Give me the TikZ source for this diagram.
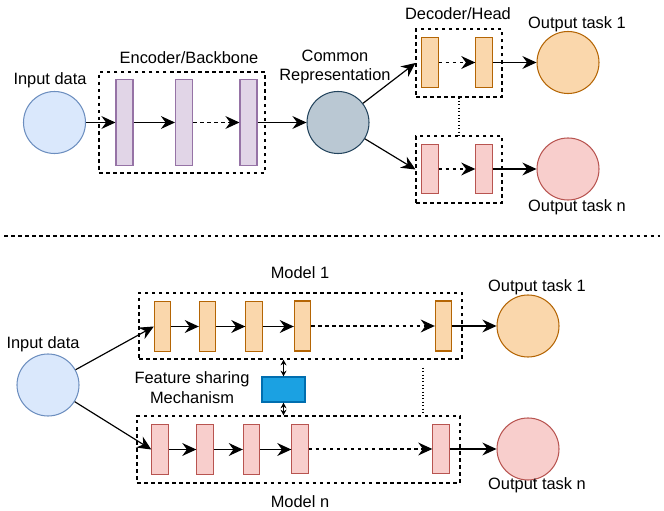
\documentclass[tikz,border=0pt]{standalone}
\usepackage{fontspec}
\setmainfont{Liberation Sans}
\usepackage{xcolor}
\usepackage{tikz}
\usetikzlibrary{arrows.meta,positioning}

\definecolor{inblue}{HTML}{DAE8FC}
\definecolor{inblueline}{HTML}{6C8EBF}
\definecolor{encfill}{HTML}{E1D5E7}
\definecolor{encline}{HTML}{9673A6}
\definecolor{repfill}{HTML}{BAC8D3}
\definecolor{repline}{HTML}{23445D}
\definecolor{orfill}{HTML}{FAD7AC}
\definecolor{orline}{HTML}{B46504}
\definecolor{pkfill}{HTML}{F8CECC}
\definecolor{pkline}{HTML}{B85450}
\definecolor{shfill}{HTML}{1BA1E2}
\definecolor{shline}{HTML}{006EAF}

\tikzset{
  lbl/.style={font=\fontsize{14}{17}\selectfont, align=center, inner sep=0pt},
  ball/.style={circle, minimum size=1.86cm, inner sep=0pt, line width=0.9pt},
  encbar/.style={draw=encline, fill=encfill, line width=0.9pt, minimum width=0.51cm, minimum height=2.58cm, inner sep=0pt},
  orbar/.style={draw=orline, fill=orfill, line width=0.9pt, minimum width=0.49cm, minimum height=1.5cm, inner sep=0pt},
  pkbar/.style={draw=pkline, fill=pkfill, line width=0.9pt, minimum width=0.49cm, minimum height=1.48cm, inner sep=0pt},
  group/.style={draw, dashed, line width=0.9pt, inner sep=0pt},
  flow/.style={-{Stealth[length=12pt,width=11pt,inset=4pt]}, line width=1pt},
  twoway/.style={{Stealth[length=5pt,width=5pt]}-{Stealth[length=5pt,width=5pt]}, line width=0.9pt},
}

\begin{document}
\begin{tikzpicture}[x=0.03cm, y=-0.03cm]
\useasboundingbox (0,0) rectangle (664,511);

\node[ball, draw=inblueline, fill=inblue] (in1) at (54.5,122.5) {};
\node[lbl] at (50,80) {Input data};

\node[group, minimum width=4.98cm, minimum height=3.03cm] (enc) at (182,122.5) {};
\node[lbl] at (189,58) {Encoder/Backbone};
\node[encbar] (e1) at (124.5,122.5) {};
\node[encbar] (e2) at (184,122.5) {};
\node[encbar] (e3) at (248.5,122.5) {};

\node[ball, draw=repline, fill=repfill] (rep) at (338,122.5) {};
\node[lbl] at (335,67) {Common\\Representation};

\node[group, minimum width=2.58cm, minimum height=2.04cm] (head1) at (459,63) {};
\node[group, minimum width=2.58cm, minimum height=2.01cm] (headn) at (459,169.5) {};
\node[lbl] at (458,14) {Decoder/Head};
\node[orbar] (h1a) at (430,62.5) {};
\node[orbar] (h1b) at (484,62.5) {};
\node[pkbar] (hna) at (430,169) {};
\node[pkbar] (hnb) at (484,169) {};

\node[ball, draw=orline, fill=orfill] (out1) at (568,62.5) {};
\node[ball, draw=pkline, fill=pkfill] (outn) at (568,169) {};
\node[lbl] at (577,24) {Output task 1};
\node[lbl] at (577,207) {Output task n};

\draw[flow] (in1) -- (e1);
\draw[flow] (e1) -- (e2);
\draw[flow, dashed] (e2) -- (e3);
\draw[flow] (e3) -- (rep);
\draw[flow] (rep) -- (head1.west);
\draw[flow] (rep) -- (headn.west);
\draw[flow, dashed] (h1a) -- (h1b);
\draw[flow, dashed] (hna) -- (hnb);
\draw[flow] (h1b) -- (out1);
\draw[flow] (hnb) -- (outn);
\draw[dotted, line width=0.9pt] (head1.south) -- (headn.north);

\draw[dashed, line width=0.9pt] (4,236) -- (660,236);

\node[ball, draw=inblueline, fill=inblue] (in2) at (48,385) {};
\node[lbl] at (43,344) {Input data};

\node[group, minimum width=9.69cm, minimum height=1.98cm] (mod1) at (300.5,326) {};
\node[group, minimum width=9.69cm, minimum height=2.01cm] (modn) at (298.5,449.5) {};
\node[lbl] at (300,273) {Model 1};
\node[lbl] at (300,502) {Model n};

\node[orbar] (a1) at (162.5,326.5) {};
\node[orbar] (a2) at (207.5,326.5) {};
\node[orbar] (a3) at (254,326.5) {};
\node[orbar] (a4) at (302.5,326) {};
\node[orbar] (a5) at (443.5,326) {};

\node[pkbar] (b1) at (160,449.5) {};
\node[pkbar] (b2) at (205,449.5) {};
\node[pkbar] (b3) at (251.5,449.5) {};
\node[pkbar] (b4) at (300,449) {};
\node[pkbar] (b5) at (441,449) {};

\node[ball, draw=orline, fill=orfill] (out2a) at (528,326) {};
\node[ball, draw=pkline, fill=pkfill] (out2n) at (528,449) {};
\node[lbl] at (537,287) {Output task 1};
\node[lbl] at (537,485) {Output task n};

\node[draw=shline, fill=shfill, line width=0.9pt, minimum width=1.29cm, minimum height=0.75cm, inner sep=0pt] (share) at (283.5,389.5) {};
\node[lbl] at (192,388) {Feature sharing\\Mechanism};

\draw[flow] (in2) -- (a1.west);
\draw[flow] (a1) -- (a2);
\draw[flow] (a2) -- (a3);
\draw[flow] (a3) -- (a4.west |- a3);
\draw[flow, dashed] (a4) -- (a5);
\draw[flow] (a5) -- (out2a);

\draw[flow] (in2) -- (b1.west);
\draw[flow] (b1) -- (b2);
\draw[flow] (b2) -- (b3);
\draw[flow] (b3) -- (b4.west |- b3);
\draw[flow, dashed] (b4) -- (b5);
\draw[flow] (b5) -- (out2n);

\draw[twoway] (mod1.south -| share) -- (share.north);
\draw[twoway] (share.south) -- (modn.north -| share);

\coordinate (dotx) at (423,0);
\draw[dotted, line width=0.9pt] ([yshift=-7pt]mod1.south -| dotx) -- ([yshift=3pt]modn.north -| dotx);
\end{tikzpicture}
\end{document}
